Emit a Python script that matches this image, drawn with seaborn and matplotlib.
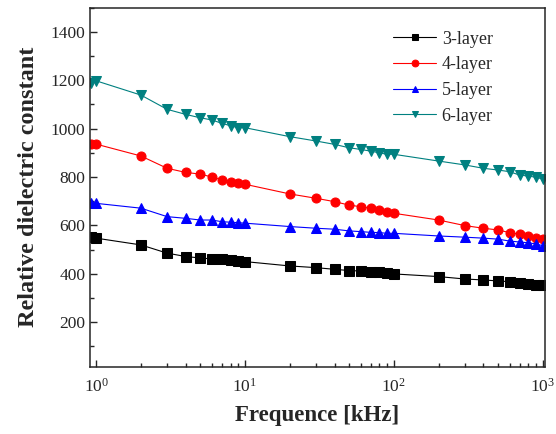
import matplotlib
matplotlib.use("Agg")
import matplotlib.pyplot as plt
import seaborn as sns
import pandas as pd
from matplotlib.ticker import LogLocator, MultipleLocator, NullFormatter

# Frequency points (kHz)
freq = [0.93, 1, 2, 3, 4, 5, 6, 7, 8, 9, 10,
        20, 30, 40, 50, 60, 70, 80, 90, 100,
        200, 300, 400, 500, 600, 700, 800, 900, 1000]

# Relative dielectric constant for each stack
layer3 = [553, 547, 519, 485, 471, 465, 461, 461, 456, 453, 450,
          432, 425, 418, 413, 411, 409, 406, 402, 399,
          388, 378, 374, 370, 367, 361, 358, 355, 352]
layer4 = [936, 936, 887, 836, 819, 812, 800, 788, 781, 776, 770,
          730, 712, 698, 684, 677, 671, 664, 657, 650,
          622, 599, 588, 581, 570, 563, 556, 547, 543]
layer5 = [691, 691, 671, 636, 629, 622, 622, 615, 613, 611, 609,
          595, 588, 584, 577, 574, 571, 570, 567, 567,
          556, 551, 547, 543, 535, 531, 528, 523, 516]
layer6 = [1187, 1198, 1139, 1080, 1059, 1045, 1036, 1022, 1012, 1004, 1004,
          967, 949, 935, 921, 914, 907, 900, 894, 894,
          866, 850, 836, 829, 822, 808, 804, 799, 792]

series_names = ["3-layer", "4-layer", "5-layer", "6-layer"]
series_vals = [layer3, layer4, layer5, layer6]
colors = ["black", "red", "blue", "#008080"]
markers = ["s", "o", "^", "v"]

sns.set_style("ticks")
plt.rcParams["font.family"] = ["Liberation Serif", "DejaVu Serif"]
plt.rcParams["mathtext.fontset"] = "stix"

fig, ax = plt.subplots(figsize=(5.56, 4.34), dpi=100)
fig.subplots_adjust(left=0.162, right=0.980, top=0.982, bottom=0.155)

for name, vals, c, m in zip(series_names, series_vals, colors, markers):
    df = pd.DataFrame({"freq": freq, "value": vals})
    sns.lineplot(data=df, x="freq", y="value", ax=ax, color=c, marker=m,
                 markersize=6.5, markeredgecolor=c, linewidth=0.8,
                 label=name)

ax.set_xscale("log")
ax.set_xlim(0.911, 1036)
ax.set_ylim(15, 1500)
ax.xaxis.set_major_locator(LogLocator(base=10, numticks=10))
ax.xaxis.set_minor_locator(LogLocator(base=10, subs=range(2, 10), numticks=10))
ax.xaxis.set_minor_formatter(NullFormatter())
ax.yaxis.set_major_locator(MultipleLocator(200))
ax.yaxis.set_minor_locator(MultipleLocator(100))
ax.set_yticks(range(200, 1401, 200))

ax.tick_params(which="both", direction="in", top=False, right=False,
               labelsize=12.5, width=1)
ax.tick_params(which="major", length=5)
ax.tick_params(which="minor", length=3)
ax.tick_params(axis="x", pad=8)
for s in ax.spines.values():
    s.set_linewidth(1.1)

ax.set_xlabel("Frequence [kHz]", fontsize=16.5, fontweight="bold", labelpad=7)
ax.set_ylabel("Relative dielectric constant", fontsize=17.5, fontweight="bold",
              labelpad=8)

ax.legend(loc="upper left", frameon=False, fontsize=13,
          bbox_to_anchor=(0.666, 0.936), borderaxespad=0, borderpad=0,
          handlelength=2.4, handletextpad=0.3, labelspacing=0.48,
          markerscale=0.75)

fig.savefig("out.png", dpi=100)
